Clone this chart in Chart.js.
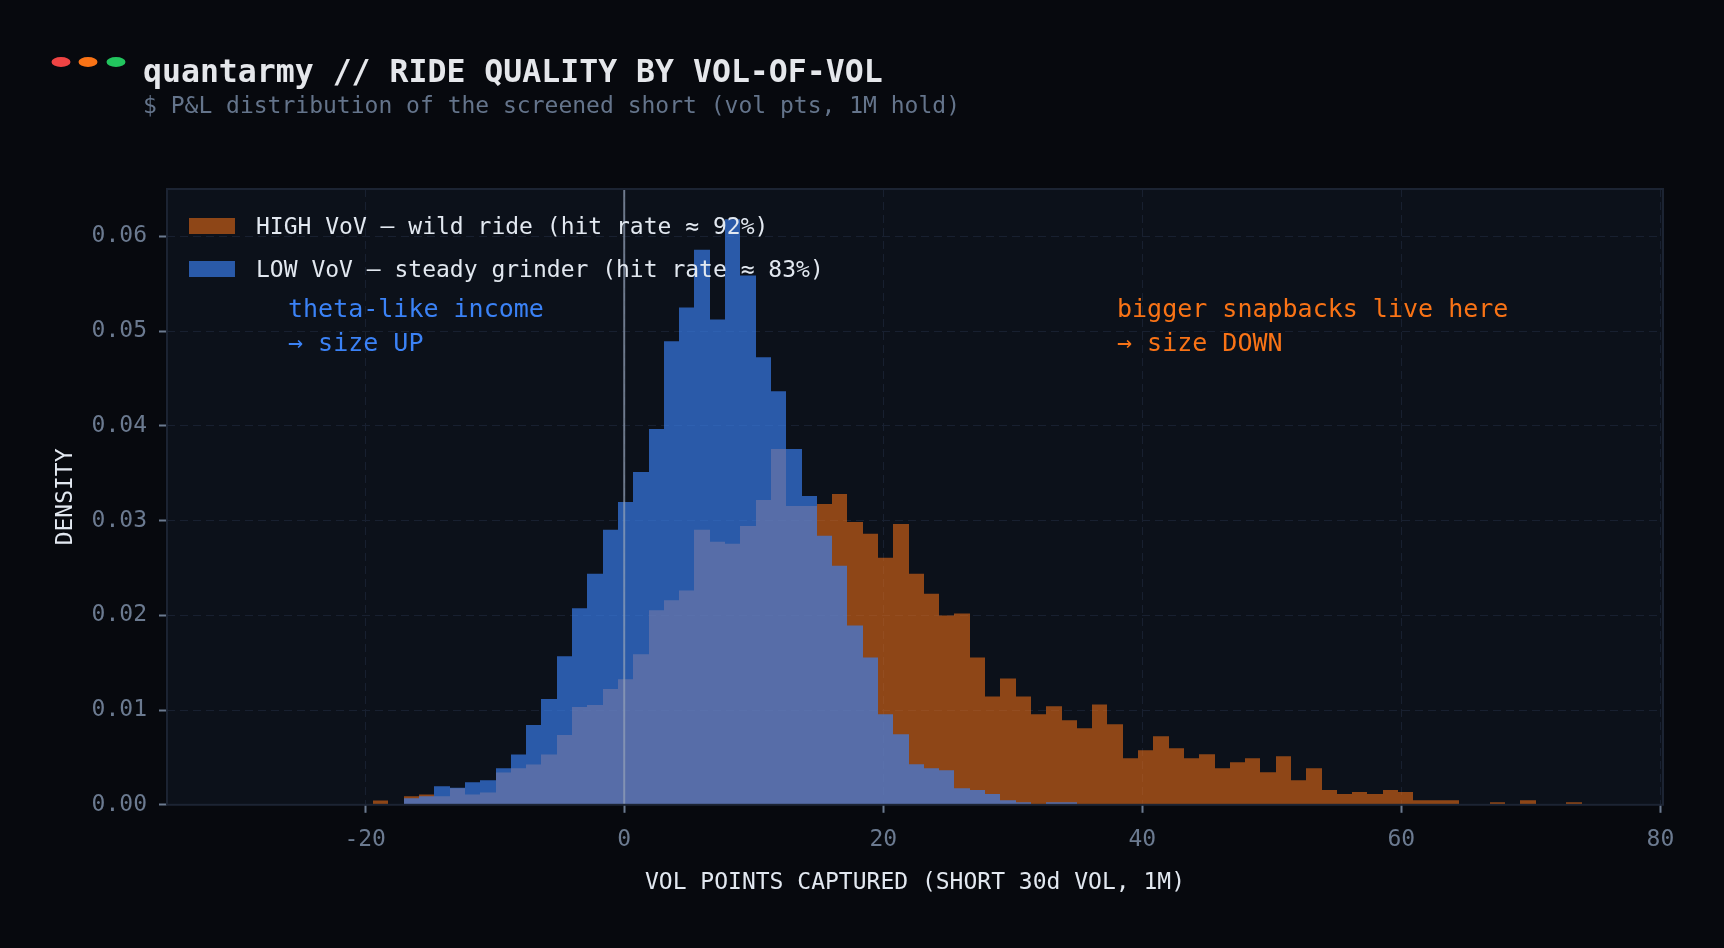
<!DOCTYPE html>
<html>
<head>
<meta charset="utf-8">
<script src="https://cdn.jsdelivr.net/npm/chart.js@4.4.1/dist/chart.umd.min.js"></script>
<style>
  html, body { margin: 0; padding: 0; background: #07090e; }
  #wrap { position: relative; width: 1724px; height: 948px; }
</style>
</head>
<body>
<div id="wrap"><canvas id="vovChart" width="1724" height="948"></canvas></div>
<script>
// histogram bin centres (vol points), shared by both series
var binCenters = [
  -18.79, -17.61, -16.43, -15.25, -14.07, -12.88, -11.70, -10.52, -9.34, -8.16,
  -6.98, -5.80, -4.62, -3.44, -2.26, -1.07, 0.11, 1.29, 2.47, 3.65,
  4.83, 6.01, 7.19, 8.37, 9.55, 10.74, 11.92, 13.10, 14.28, 15.46,
  16.64, 17.82, 19.00, 20.18, 21.36, 22.55, 23.73, 24.91, 26.09, 27.27,
  28.45, 29.63, 30.81, 31.99, 33.17, 34.36, 35.54, 36.72, 37.90, 39.08,
  40.26, 41.44, 42.62, 43.80, 44.98, 46.17, 47.35, 48.53, 49.71, 50.89,
  52.07, 53.25, 54.43, 55.61, 56.79, 57.98, 59.16, 60.34, 61.52, 62.70,
  63.88, 65.06, 66.24, 67.42, 68.60, 69.79, 70.97, 72.15, 73.33
];

// density, HIGH vol-of-vol bucket
var highVoV = [
  0.00045, 0, 0.00090, 0.00110, 0.00090, 0.00175, 0.00110, 0.00130, 0.00340, 0.00385,
  0.00425, 0.00530, 0.00737, 0.01032, 0.01053, 0.01221, 0.01326, 0.01590, 0.02053, 0.02158,
  0.02263, 0.02902, 0.02776, 0.02755, 0.02944, 0.03218, 0.03755, 0.03155, 0.03155, 0.03176,
  0.03281, 0.02986, 0.02860, 0.02608, 0.02965, 0.02439, 0.02229, 0.01997, 0.02018, 0.01555,
  0.01144, 0.01334, 0.01144, 0.00955, 0.01040, 0.00892, 0.00807, 0.01060, 0.00850, 0.00491,
  0.00575, 0.00723, 0.00597, 0.00491, 0.00533, 0.00386, 0.00449, 0.00491, 0.00344, 0.00512,
  0.00260, 0.00386, 0.00155, 0.00113, 0.00134, 0.00113, 0.00155, 0.00134, 0.00049, 0.00049,
  0.00049, 0, 0, 0.00028, 0, 0.00049, 0, 0, 0.00028
];

// density, LOW vol-of-vol bucket
var lowVoV = [
  0, 0, 0.00068, 0.00090, 0.00195, 0.00180, 0.00238, 0.00258, 0.00385, 0.00532,
  0.00842, 0.01116, 0.01568, 0.02074, 0.02439, 0.02902, 0.03197, 0.03513, 0.03966, 0.04892,
  0.05250, 0.05860, 0.05123, 0.06180, 0.05586, 0.04723, 0.04365, 0.03755, 0.03260, 0.02840,
  0.02523, 0.01892, 0.01555, 0.00955, 0.00744, 0.00428, 0.00386, 0.00365, 0.00176, 0.00155,
  0.00113, 0.00049, 0.00028, 0, 0.00028, 0.00028, 0, 0, 0, 0,
  0, 0, 0, 0, 0, 0, 0, 0, 0, 0,
  0, 0, 0, 0, 0, 0, 0, 0, 0, 0,
  0, 0, 0, 0, 0, 0, 0, 0, 0
];

var xTicks = [-20, 0, 20, 40, 60, 80];
var yTicks = [0, 0.01, 0.02, 0.03, 0.04, 0.05, 0.06];

var seriesNames = [
  'HIGH VoV \u2014 wild ride (hit rate \u2248 92%)',
  'LOW VoV \u2014 steady grinder (hit rate \u2248 83%)'
];

var MONO = "'DejaVu Sans Mono', 'Liberation Mono', monospace";
var orangeFill = 'rgba(249, 115, 22, 0.55)';
var blueFill = 'rgba(59, 130, 246, 0.65)';

function toPoints(vals) {
  return binCenters.map((c, i) => ({ x: c, y: vals[i] }));
}

// background, zero line, frame, legend, notes and header
var decor = {
  id: 'decor',
  beforeDraw(chart) {
    var a = chart.chartArea, ctx = chart.ctx;
    ctx.save();
    ctx.fillStyle = '#0c111a';
    ctx.fillRect(a.left, a.top, a.width, a.height);
    ctx.restore();
  },
  beforeDatasetsDraw(chart) {
    // snap bar edges to whole pixels; neighbours share the same edge so no seams
    chart.getSortedVisibleDatasetMetas().forEach(meta => {
      var bars = meta.data;
      var xs = bars.map(el => el.x);
      var half = bars.length ? bars[0].width / 2 : 0;
      bars.forEach((el, i) => {
        var l = i > 0 ? Math.round((xs[i - 1] + xs[i]) / 2) : Math.round(xs[i] - half);
        var r = i < xs.length - 1 ? Math.round((xs[i] + xs[i + 1]) / 2) : Math.round(xs[i] + half);
        el.x = (l + r) / 2;
        el.width = r - l;
      });
    });
  },
  afterDatasetsDraw(chart) {
    var a = chart.chartArea, ctx = chart.ctx;
    var x0 = chart.scales.x.getPixelForValue(0);
    ctx.save();
    ctx.strokeStyle = 'rgba(148, 163, 184, 0.7)';
    ctx.lineWidth = 2;
    ctx.beginPath();
    ctx.moveTo(x0, a.top);
    ctx.lineTo(x0, a.bottom);
    ctx.stroke();
    ctx.restore();
  },
  afterDraw(chart) {
    var a = chart.chartArea, ctx = chart.ctx;
    ctx.save();

    // frame
    ctx.strokeStyle = '#1c2433';
    ctx.lineWidth = 2;
    ctx.strokeRect(a.left, a.top, a.width, a.height);

    // legend
    var fills = [orangeFill, blueFill];
    ctx.font = '23px ' + MONO;
    ctx.textBaseline = 'alphabetic';
    for (var i = 0; i < 2; i++) {
      var top = a.top + 29 + i * 43;
      ctx.fillStyle = '#0c111a';
      ctx.fillRect(a.left + 22, top, 46, 16);
      ctx.fillStyle = fills[i];
      ctx.fillRect(a.left + 22, top, 46, 16);
      ctx.fillStyle = '#e2e8f0';
      ctx.fillText(seriesNames[i], a.left + 89, top + 16);
    }

    // notes
    ctx.font = '25px ' + MONO;
    ctx.fillStyle = '#3b82f6';
    ctx.fillText('theta-like income', 288, 317);
    ctx.fillText('\u2192 size UP', 288, 351);
    ctx.fillStyle = '#f97316';
    ctx.fillText('bigger snapbacks live here', 1117, 317);
    ctx.fillText('\u2192 size DOWN', 1117, 351);

    // header dots
    var dots = [['#ef4444', 61], ['#f97316', 88], ['#22c55e', 116]];
    dots.forEach(function (d) {
      ctx.fillStyle = d[0];
      ctx.beginPath();
      ctx.ellipse(d[1], 62, 9.5, 5, 0, 0, Math.PI * 2);
      ctx.fill();
    });

    ctx.fillStyle = '#e5e7eb';
    ctx.font = 'bold 31.5px ' + MONO;
    ctx.fillText('quantarmy // RIDE QUALITY BY VOL-OF-VOL', 143, 82);
    ctx.fillStyle = '#64748b';
    ctx.font = '23px ' + MONO;
    ctx.fillText('$ P&L distribution of the screened short (vol pts, 1M hold)', 143, 113);
    ctx.restore();
  }
};

var ctx = document.getElementById('vovChart').getContext('2d');

var vovChart = new Chart(ctx, {
  type: 'bar',
  data: {
    datasets: [
      {
        label: seriesNames[0],
        data: toPoints(highVoV),
        backgroundColor: orangeFill,
        order: 1
      },
      {
        label: seriesNames[1],
        data: toPoints(lowVoV),
        backgroundColor: blueFill,
        order: 0
      }
    ]
  },
  options: {
    responsive: false,
    animation: false,
    events: [],
    grouped: false,
    barPercentage: 1,
    categoryPercentage: 1,
    borderWidth: 0,
    inflateAmount: 0,
    layout: { padding: { left: 40, top: 189, right: 61, bottom: 51 } },
    plugins: {
      legend: { display: false },
      tooltip: { enabled: false }
    },
    scales: {
      x: {
        type: 'linear',
        min: -35.3,
        max: 80.2,
        offset: false,
        afterBuildTicks: function (s) { s.ticks = xTicks.map(v => ({ value: v })); },
        grid: {
          offset: false,
          color: '#182030',
          lineWidth: 1,
          tickLength: 8,
          tickWidth: 2,
          tickColor: '#6b7a90',
          tickBorderDash: []
        },
        border: { display: false, dash: [8, 5] },
        ticks: {
          color: '#6b7a90',
          padding: 13,
          font: { family: MONO, size: 23 },
          maxRotation: 0,
          callback: v => String(v)
        },
        title: {
          display: true,
          text: 'VOL POINTS CAPTURED (SHORT 30d VOL, 1M)',
          color: '#e2e8f0',
          font: { family: MONO, size: 23 },
          padding: { top: 3, bottom: 0 }
        }
      },
      y: {
        min: 0,
        max: 0.065,
        afterBuildTicks: function (s) { s.ticks = yTicks.map(v => ({ value: v })); },
        grid: {
          color: '#182030',
          lineWidth: 1,
          tickLength: 8,
          tickWidth: 2,
          tickColor: '#6b7a90',
          tickBorderDash: []
        },
        border: { display: false, dash: [8, 5] },
        ticks: {
          color: '#6b7a90',
          padding: 12,
          font: { family: MONO, size: 23 },
          callback: v => v.toFixed(2)
        },
        title: {
          display: true,
          text: 'DENSITY',
          color: '#e2e8f0',
          font: { family: MONO, size: 23 },
          padding: { top: 12, bottom: 0 }
        }
      }
    }
  },
  plugins: [decor]
});
</script>
</body>
</html>
